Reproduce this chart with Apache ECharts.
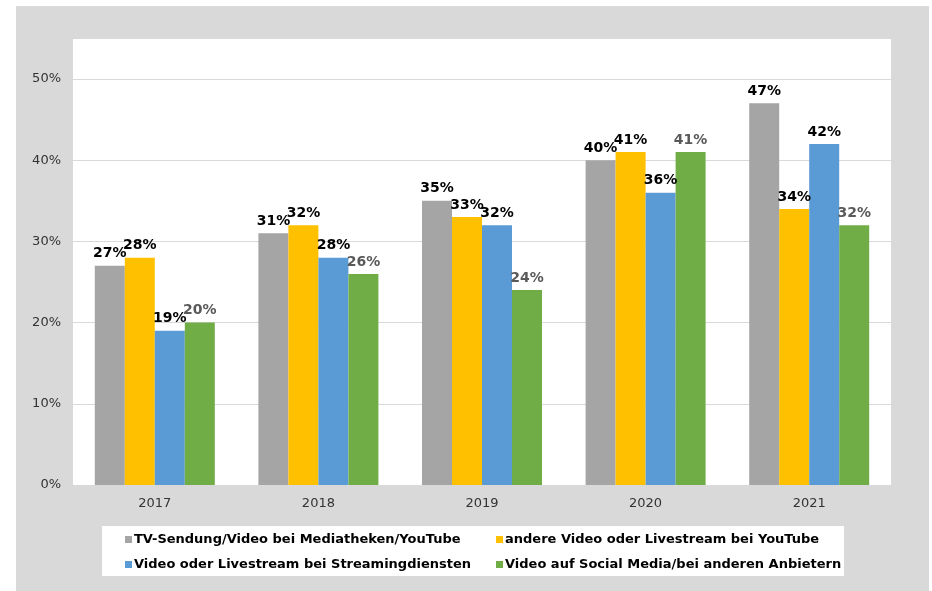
<!DOCTYPE html>
<html><head><meta charset="utf-8">
<script src="https://cdn.jsdelivr.net/npm/echarts@6/dist/echarts.min.js"></script>
<style>html,body{margin:0;padding:0;background:#fff;}#c{width:932px;height:591px;}</style>
</head><body><div id="c"></div>
<script>
const categories = ['2017','2018','2019','2020','2021'];
const seriesNames = ['TV-Sendung/Video bei Mediatheken/YouTube','andere Video oder Livestream bei YouTube','Video oder Livestream bei Streamingdiensten','Video auf Social Media/bei anderen Anbietern'];
const tvMediathek = [27,31,35,40,47];
const andereYouTube = [28,32,33,41,34];
const streaming = [19,28,32,36,42];
const socialMedia = [20,26,24,41,32];
const yTicks = [0,10,20,30,40,50];

const colors = ['#a5a5a5','#ffc000','#5b9bd5','#70ad47'];
const labelColors = ['#000','#000','#000','#595959'];
const data = [tvMediathek, andereYouTube, streaming, socialMedia];
const font = '"DejaVu Sans", Verdana, sans-serif';

const chart = echarts.init(document.getElementById('c'));
chart.setOption({
  animation:false,
  backgroundColor:'#fff',
  graphic:[
    {type:'rect', z:-10, shape:{x:16,y:6,width:913,height:600}, style:{fill:'#d9d9d9'}},
    {type:'rect', z:-9, shape:{x:73,y:39,width:818,height:446}, style:{fill:'#fff'}},
    {type:'rect', z:-9, shape:{x:102,y:526,width:742,height:50}, style:{fill:'#fff'}}
  ],
  grid:{left:73, right:41, top:79, bottom:106},
  xAxis:{type:'category', data:categories,
    axisLine:{lineStyle:{color:'#d9d9d9'}}, axisTick:{show:false},
    axisLabel:{color:'#333', fontFamily:font, fontSize:13, margin:12}},
  yAxis:{type:'value', min:yTicks[0], max:yTicks[yTicks.length-1], interval:10,
    axisLabel:{formatter:v=>v+'%', color:'#333', fontFamily:font, fontSize:13, margin:12},
    splitLine:{lineStyle:{color:'#d9d9d9'}}},
  legend:[
    {data:[seriesNames[0], seriesNames[2]], orient:'vertical', left:120, top:528, itemGap:12,
     icon:'rect', itemWidth:7, itemHeight:7,
     textStyle:{fontFamily:font, fontWeight:'bold', fontSize:13, color:'#000', padding:[0,0,0,-3]}},
    {data:[seriesNames[1], seriesNames[3]], orient:'vertical', left:491, top:528, itemGap:12,
     icon:'rect', itemWidth:7, itemHeight:7,
     textStyle:{fontFamily:font, fontWeight:'bold', fontSize:13, color:'#000', padding:[0,0,0,-3]}}
  ],
  series: data.map((d,i)=>({
    name:seriesNames[i], type:'bar', data:d, barWidth:30, barGap:'0%',
    itemStyle:{color:colors[i]},
    label:{show:true, position:'top', distance:5, formatter:'{c}%', color:labelColors[i],
      fontFamily:font, fontWeight:'bold', fontSize:14}
  }))
});
</script></body></html>
